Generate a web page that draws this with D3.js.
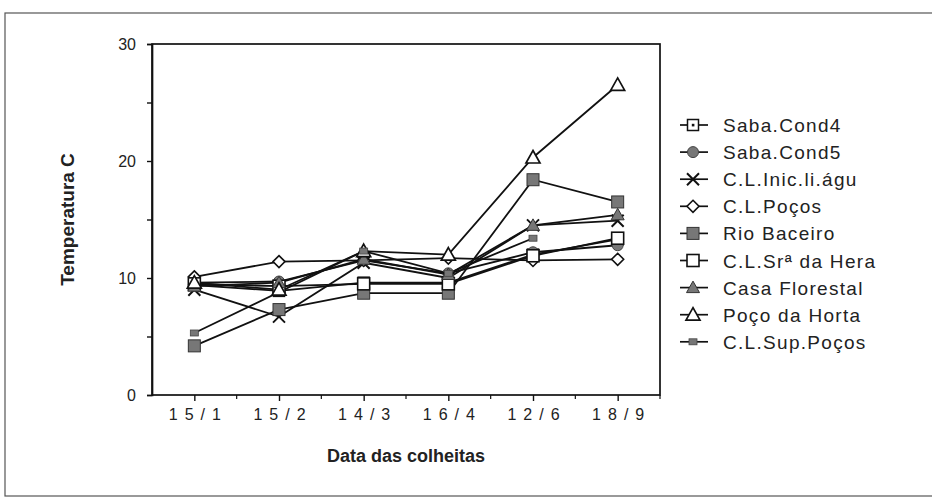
<!DOCTYPE html>
<html><head><meta charset="utf-8">
<script src="https://cdn.jsdelivr.net/npm/d3@7"></script>
<style>body{margin:0;background:#fff}svg{display:block}text{font-family:"Liberation Sans",Arial,sans-serif;fill:#222}</style>
</head><body><svg id="c" width="932" height="498"></svg>
<script>
const dates = ["15/1","15/2","14/3","16/4","12/6","18/9"];
const yTicks = [0,10,20,30];
const sabaCond4   = [9.4, 8.9, 9.6, 9.6, 12.0, 13.3];
const sabaCond5   = [9.6, 9.7, 11.5, 10.4, 12.2, 12.8];
const clInic      = [9.0, 6.7, 11.3, 10.0, 14.5, 14.9];
const clPocos     = [10.1, 11.4, 11.5, 11.7, 11.5, 11.6];
const rioBaceiro  = [4.2, 7.3, 8.7, 8.7, 18.4, 16.5];
const clSraHera   = [9.5, 9.3, 9.5, 9.5, 11.9, 13.4];
const casaFlor    = [9.3, 9.6, 11.6, 10.3, 14.5, 15.4];
const pocoHorta   = [9.6, 9.0, 12.3, 12.0, 20.3, 26.5];
const clSupPocos  = [5.3, null, 12.3, 10.4, 13.4, null];
const seriesNames = ["Saba.Cond4","Saba.Cond5","C.L.Inic.li.águ","C.L.Poços","Rio Baceiro","C.L.Srª da Hera","Casa Florestal","Poço da Horta","C.L.Sup.Poços"];
const seriesValues = [sabaCond4,sabaCond5,clInic,clPocos,rioBaceiro,clSraHera,casaFlor,pocoHorta,clSupPocos];
const markerTypes = ["squareDot","circleFill","x","diamondOpen","squareFill","squareOpen","triFill","triOpen","smallRect"];

const svg = d3.select("#c");
svg.append("rect").attr("x",5).attr("y",13).attr("width",940).attr("height",483)
  .attr("fill","none").attr("stroke","#555").attr("stroke-width",1.2);

const L=152, R=660, T=44, B=395;
const x = d3.scalePoint().domain(dates).range([L,R]).padding(0.5);
const y = d3.scaleLinear().domain([0,30]).range([B,T]);
const g = svg.append("g");

g.append("rect").attr("x",L).attr("y",T).attr("width",R-L).attr("height",B-T)
  .attr("fill","none").attr("stroke","#111").attr("stroke-width",1.7);

const yAx = g.append("g").attr("transform",`translate(${L},0)`)
  .call(d3.axisLeft(y).tickValues([0,5,10,15,20,25,30]).tickSize(5).tickFormat(d=>yTicks.includes(d)?d:""));
yAx.select(".domain").attr("stroke","#111").attr("stroke-width",1.7);
yAx.selectAll(".tick line").attr("stroke","#111").attr("stroke-width",1.4);
yAx.selectAll("text").attr("x",-16).attr("font-size",16).attr("fill","#222");

const step = x.step();
const xAx = g.append("g").attr("transform",`translate(0,${B})`)
  .call(d3.axisBottom(x).tickSize(6).tickPadding(8));
xAx.select(".domain").remove();
xAx.selectAll(".tick line").attr("stroke","#111").attr("stroke-width",1.4);
xAx.selectAll("text").attr("font-size",16).attr("letter-spacing","7px").attr("dx","3.5").attr("fill","#222");
g.selectAll(".minor").data(dates.slice(1)).enter().append("line")
  .attr("x1",d=>x(d)-step/2).attr("x2",d=>x(d)-step/2).attr("y1",B).attr("y2",B+4)
  .attr("stroke","#111").attr("stroke-width",1.2);
g.append("line").attr("x1",R).attr("x2",R).attr("y1",B).attr("y2",B+4).attr("stroke","#111").attr("stroke-width",1.2);

svg.append("text").attr("transform",`translate(74,${(T+B)/2}) rotate(-90)`)
  .attr("text-anchor","middle").attr("font-size",19).attr("font-weight","bold").text("Temperatura C");
svg.append("text").attr("x",406).attr("y",462).attr("text-anchor","middle")
  .attr("font-size",18).attr("font-weight","bold").text("Data das colheitas");

function drawMarker(sel, type, cx, cy){
  const gray="#777", st="#111";
  const m = sel.append("g").attr("transform",`translate(${cx},${cy})`);
  switch(type){
    case "squareDot":
      m.append("rect").attr("x",-5.5).attr("y",-5.5).attr("width",11).attr("height",11).attr("fill","#fff").attr("stroke",st).attr("stroke-width",1.5);
      m.append("rect").attr("x",-1.2).attr("y",-1.2).attr("width",2.6).attr("height",2.6).attr("fill",st); break;
    case "circleFill":
      m.append("circle").attr("r",5.5).attr("fill",gray).attr("stroke","#444").attr("stroke-width",1); break;
    case "x":
      m.append("path").attr("d","M-6,-6L6,6M6,-6L-6,6").attr("stroke",st).attr("stroke-width",2); break;
    case "diamondOpen":
      m.append("path").attr("d","M0,-6L6,0L0,6L-6,0Z").attr("fill","#fff").attr("stroke",st).attr("stroke-width",1.6); break;
    case "squareFill":
      m.append("rect").attr("x",-6).attr("y",-6).attr("width",12).attr("height",12).attr("fill",gray).attr("stroke","#333").attr("stroke-width",1); break;
    case "squareOpen":
      m.append("rect").attr("x",-6).attr("y",-6).attr("width",12).attr("height",12).attr("fill","#fff").attr("stroke",st).attr("stroke-width",1.6); break;
    case "triFill":
      m.append("path").attr("d","M0,-6.5L6.5,5L-6.5,5Z").attr("fill",gray).attr("stroke","#333").attr("stroke-width",1); break;
    case "triOpen":
      m.append("path").attr("d","M0,-7L7,5.5L-7,5.5Z").attr("fill","#fff").attr("stroke",st).attr("stroke-width",1.7); break;
    case "smallRect":
      m.append("rect").attr("x",-4).attr("y",-3).attr("width",8).attr("height",6).attr("fill",gray).attr("stroke","#444").attr("stroke-width",0.8); break;
  }
}

const line = d3.line().x(d=>x(d.d)).y(d=>y(d.v));
seriesValues.forEach((vals,i)=>{
  const pts = dates.map((d,j)=>({d, v: vals[j]})).filter(p=>p.v!=null);
  g.append("path").datum(pts).attr("d",line).attr("fill","none").attr("stroke","#111").attr("stroke-width",1.8);
});
seriesValues.forEach((vals,i)=>{
  dates.forEach((d,j)=>{ if(vals[j]!=null) drawMarker(g, markerTypes[i], x(d), y(vals[j])); });
});

const leg = svg.append("g");
seriesNames.forEach((n,i)=>{
  const yy = 125 + i*27.1;
  leg.append("line").attr("x1",680).attr("x2",708).attr("y1",yy).attr("y2",yy).attr("stroke","#111").attr("stroke-width",1.7);
  drawMarker(leg, markerTypes[i], 693, yy);
  leg.append("text").attr("x",723).attr("y",yy+7).attr("font-size",19).attr("letter-spacing","1.3px").text(n);
});
</script></body></html>
